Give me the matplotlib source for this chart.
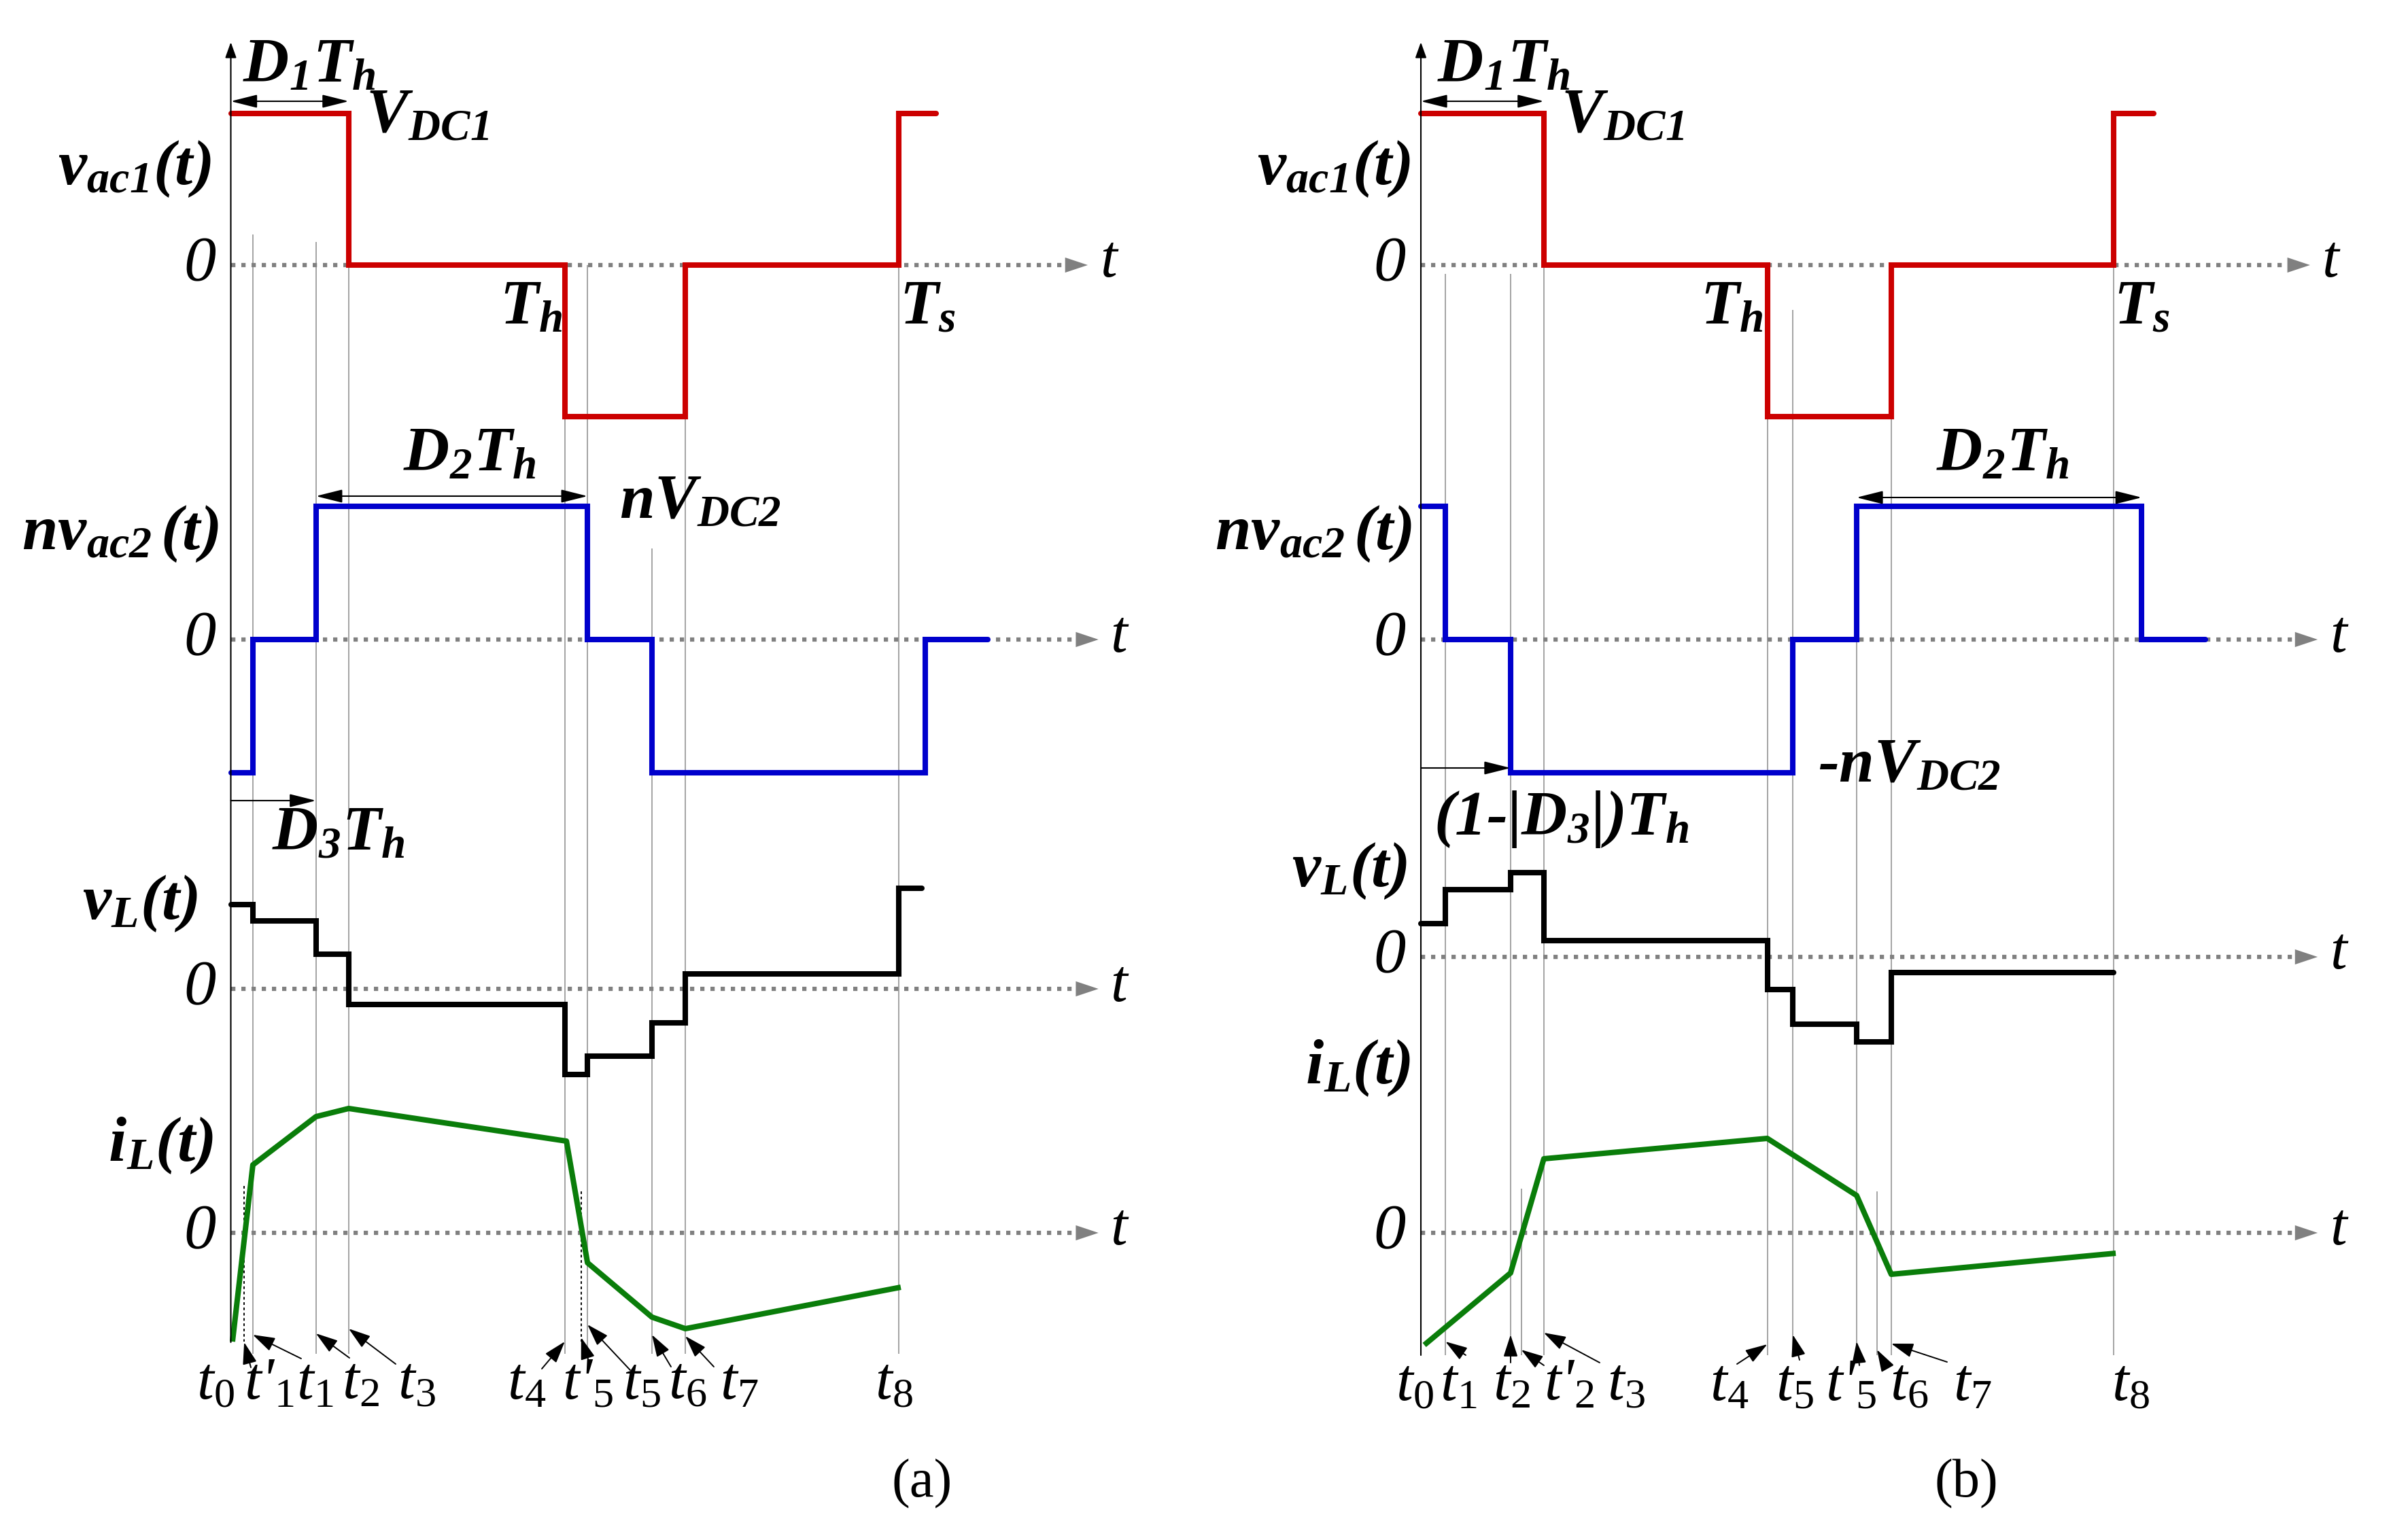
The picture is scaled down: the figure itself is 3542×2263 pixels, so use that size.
import matplotlib
matplotlib.use('Agg')
import matplotlib.pyplot as plt

W, H = 3542, 2263
DPI = 100

plt.rcParams['font.family'] = ['Liberation Serif', 'DejaVu Serif']
plt.rcParams['mathtext.fontset'] = 'custom'
plt.rcParams['mathtext.rm'] = 'Liberation Serif'
plt.rcParams['mathtext.it'] = 'Liberation Serif:italic'
plt.rcParams['mathtext.bf'] = 'Liberation Serif:bold:italic'

# ---------------- data: instants in units of Th, normalised levels ----------------
# panel (a)
a_instants = [0.0, 0.040, 0.066, 0.255, 0.353, 1.0, 1.049, 1.068, 1.261, 1.361, 2.0]
a_names = ["t0", "t'1", "t1", "t2", "t3", "t4", "t'5", "t5", "t6", "t7", "t8"]
a_vac1_edges = [0.0, 0.353, 1.0, 1.361, 2.0, 2.112]
a_vac1_levels = [1, 0, -1, 0, 1]
a_nvac2_edges = [0.0, 0.066, 0.255, 1.068, 1.261, 2.079, 2.266]
a_nvac2_levels = [-1, 0, 1, 0, -1, 0]
a_vl_edges = [0.0, 0.066, 0.255, 0.353, 1.0, 1.068, 1.261, 1.361, 2.0, 2.069]
a_vl_levels = [0.83, 0.67, 0.34, -0.15, -0.84, -0.66, -0.33, 0.15, 0.99]
a_il_t = [0.005, 0.066, 0.255, 0.353, 1.005, 1.068, 1.261, 1.361, 2.006]
a_il = [-0.80, 0.50, 0.855, 0.915, 0.675, -0.22, -0.62, -0.705, -0.40]

# panel (b)
b_instants = [0.0, 0.071, 0.259, 0.290, 0.355, 1.0, 1.074, 1.258, 1.317, 1.358, 2.0]
b_names = ["t0", "t1", "t2", "t'2", "t3", "t4", "t5", "t'5", "t6", "t7", "t8"]
b_vac1_edges = [0.0, 0.355, 1.0, 1.358, 2.0, 2.116]
b_vac1_levels = [1, 0, -1, 0, 1]
b_nvac2_edges = [0.0, 0.071, 0.259, 1.074, 1.258, 2.081, 2.265]
b_nvac2_levels = [1, 0, -1, 0, 1, 0]
b_vl_edges = [0.0, 0.071, 0.259, 0.355, 1.0, 1.074, 1.258, 1.358, 2.0]
b_vl_levels = [0.33, 0.66, 0.83, 0.16, -0.32, -0.66, -0.83, -0.15]
b_il_t = [0.01, 0.259, 0.355, 1.0, 1.258, 1.358, 2.006]
b_il = [-0.825, -0.295, 0.545, 0.695, 0.275, -0.305, -0.15]

# ---------------- layout (pixels of the full-size picture) ----------------
RED, BLUE, GREEN, GREY = '#cc0000', '#0000cc', '#0a7d0a', '#808080'
AMP = dict(vac1=223, nvac2=196, vl=150, il=200)

layout_a = dict(
    x0=339.5, ppt=491.25,
    zeros=dict(vac1=390, nvac2=941, vl=1455, il=1814),
    axis_ends=dict(vac1=2.566, nvac2=2.598, vl=2.598, il=2.598),
    yaxis=(1975, 62),
    # top of the thin guide line for each instant (None = no line)
    guide_top=[None, None, 345, 356, 390, 617, None, 390, 807, 407, 390],
    dotted_guides=[(1, 1745), (6, 1753)],
    guide_bottom=1992,
    # arrow from label to instant: index -> (tip_y, tail_x, tail_y)
    arrows={1: (1975, 369, 2012), 2: (1964, 443, 1999), 3: (1962, 514, 1998),
            4: (1955, 582, 2007), 5: (1974, 797, 2014), 6: (1968, 868, 2009),
            7: (1949, 927, 2016), 8: (1964, 987, 2011), 9: (1966, 1050, 2011)},
    name_x=[317, 396, 463, 531, 613, 775, 865, 944, 1011, 1087, 1315], name_y=2036,
)
layout_b = dict(
    x0=2090, ppt=509.5,
    zeros=dict(vac1=390, nvac2=941, vl=1408, il=1814),
    axis_ends=dict(vac1=2.567, nvac2=2.589, vl=2.589, il=2.589),
    yaxis=(1994, 62),
    guide_top=[None, 403, 403, 1749, 351, 617, 456, 744, 1753, 390, 390],
    dotted_guides=[],
    guide_bottom=1994,
    arrows={1: (1974, 2156, 1994), 2: (1964, 2222, 2005), 3: (1986, 2271, 2009),
            4: (1961, 2353, 2005), 5: (1978, 2555, 2007), 6: (1964, 2647, 2001),
            7: (1974, 2735, 2009), 8: (1986, 2774, 2009), 9: (1977, 2864, 2004)},
    name_x=[2081, 2145, 2224, 2308, 2392, 2544, 2640, 2723, 2808, 2901, 3134], name_y=2038,
)

fig = plt.figure(figsize=(W / DPI, H / DPI), dpi=DPI)
fig.patch.set_facecolor('white')

BIG = dict(fontsize=67, fontweight='bold', fontstyle='italic')
NAME = dict(fontsize=68, fontweight='bold', fontstyle='italic')
ZERO = dict(fontsize=68, fontstyle='italic')


def ftext(x, y, s, **kw):
    fig.text(x / W, 1 - y / H, s, ha='center', va='center', **kw)


def instant_label(name):
    # "t'5" -> t' with an italic subscript 5
    return name[:-1] + r'$_{\mathit{' + name[-1] + '}}$'


def make_axes(lay):
    ax = fig.add_axes([lay['x0'] / W, 0, 2 * lay['ppt'] / W, 1])
    ax.set_xlim(0, 2)
    ax.set_ylim(H, 0)
    ax.axis('off')
    return ax


def to_y(lay, key, levels):
    return [lay['zeros'][key] - AMP[key] * v for v in levels]


def head(ax, x0, y0, x1, y1, color, hl, hw, lw=0.0, style='-|>'):
    ax.annotate('', xy=(x1, y1), xytext=(x0, y0),
                arrowprops=dict(arrowstyle=f'{style},head_length={hl},head_width={hw}',
                                mutation_scale=1, color=color, lw=lw,
                                shrinkA=0, shrinkB=0), annotation_clip=False)


def draw_panel(lay, instants, names, traces, il_t, il):
    ax = make_axes(lay)
    ppt = lay['ppt']

    # thin guide lines
    for t, top in zip(instants, lay['guide_top']):
        if top is not None:
            ax.vlines(t, top, lay['guide_bottom'], color='#8a8a8a', lw=1.1, clip_on=False)
    for i, top in lay['dotted_guides']:
        ax.vlines(instants[i], top, lay['guide_bottom'] - 18, color='black', lw=1.4,
                  linestyles=(0, (2, 2)), clip_on=False)

    # vertical axis
    yb, yt = lay['yaxis']
    head(ax, 0, yb, 0, yt, 'black', 14, 5, lw=1.5)

    # dotted time axes with grey arrow heads
    hl = 33 / ppt
    for key, end in lay['axis_ends'].items():
        z = lay['zeros'][key]
        ax.plot([0, end - hl], [z, z], color=GREY, lw=4.5, dashes=(1, 1.4),
                clip_on=False)
        head(ax, end - hl, z, end, z, GREY, 24, 8)

    # step waveforms
    for key, edges, levels, color in traces:
        ys = to_y(lay, key, levels + [levels[-1]])
        ax.step(edges, ys, where='post', color=color, lw=5.8, clip_on=False,
                solid_capstyle='round', solid_joinstyle='miter')

    # inductor current
    ax.plot(il_t, to_y(lay, 'il', il), color=GREEN, lw=5.8, clip_on=False,
            solid_capstyle='butt', solid_joinstyle='round')

    # instant labels and arrows
    for n, x in zip(names, lay['name_x']):
        ftext(x, lay['name_y'], instant_label(n), fontsize=64, fontstyle='italic')
    for i, (tip_y, tx, ty) in lay['arrows'].items():
        ax.annotate('', xy=(instants[i], tip_y), xycoords='data',
                    xytext=(tx, H - ty), textcoords='figure pixels',
                    arrowprops=dict(arrowstyle='-|>,head_length=20,head_width=6.5',
                                    mutation_scale=1, color='black', lw=1.4,
                                    shrinkA=0, shrinkB=0), annotation_clip=False)

    # zero and t labels
    for key in lay['zeros']:
        z = lay['zeros'][key]
        end_px = lay['x0'] + lay['axis_ends'][key] * ppt
        ftext(lay['x0'] - 46, z, '0', **ZERO)
        ftext(end_px + 30, z - 4, 't', fontsize=64, fontstyle='italic')
    return ax


ax_a = draw_panel(layout_a, a_instants, a_names,
                  [('vac1', a_vac1_edges, a_vac1_levels, RED),
                   ('nvac2', a_nvac2_edges, a_nvac2_levels, BLUE),
                   ('vl', a_vl_edges, a_vl_levels, 'black')],
                  a_il_t, a_il)
ax_b = draw_panel(layout_b, b_instants, b_names,
                  [('vac1', b_vac1_edges, b_vac1_levels, RED),
                   ('nvac2', b_nvac2_edges, b_nvac2_levels, BLUE),
                   ('vl', b_vl_edges, b_vl_levels, 'black')],
                  b_il_t, b_il)

# duration arrows
head(ax_a, 0, 149, a_instants[4], 149, 'black', 24, 6, lw=1.5, style='<|-|>')
head(ax_a, a_instants[3], 730, a_instants[7], 730, 'black', 24, 6, lw=1.5, style='<|-|>')
head(ax_a, 0, 1178, a_instants[3], 1178, 'black', 24, 6, lw=1.5)
head(ax_b, 0, 149, b_instants[4], 149, 'black', 24, 6, lw=1.5, style='<|-|>')
head(ax_b, b_instants[7], 732, b_nvac2_edges[5], 732, 'black', 24, 6, lw=1.5, style='<|-|>')
head(ax_b, 0, 1130, b_instants[2], 1130, 'black', 24, 6, lw=1.5)

# panel (a) labels
ftext(455, 98, r'$\mathbf{D_1T_h}$', **BIG)
ftext(629, 172, r'$\mathbf{V_{DC1}}$', **BIG)
ftext(198, 249, r'$\mathbf{v_{ac1}(t)}$', **NAME)
ftext(781, 454, r'$\mathbf{T_h}$', **BIG)
ftext(1364, 454, r'$\mathbf{T_s}$', **BIG)
ftext(691, 670, r'$\mathbf{D_2T_h}$', **BIG)
ftext(1030, 740, r'$\mathbf{nV_{DC2}}$', **BIG)
ftext(177, 786, r'$\mathbf{nv_{ac2}\,(t)}$', **NAME)
ftext(498, 1228, r'$\mathbf{D_3T_h}$', **BIG)
ftext(206, 1330, r'$\mathbf{v_L(t)}$', **NAME)
ftext(236, 1686, r'$\mathbf{i_L(t)}$', **NAME)
ftext(1356, 2183, '(a)', fontsize=58)

# panel (b) labels
ftext(2212, 98, r'$\mathbf{D_1T_h}$', **BIG)
ftext(2387, 172, r'$\mathbf{V_{DC1}}$', **BIG)
ftext(1962, 249, r'$\mathbf{v_{ac1}(t)}$', **NAME)
ftext(2547, 454, r'$\mathbf{T_h}$', **BIG)
ftext(3150, 454, r'$\mathbf{T_s}$', **BIG)
ftext(2946, 670, r'$\mathbf{D_2T_h}$', **BIG)
ftext(1932, 786, r'$\mathbf{nv_{ac2}\,(t)}$', **NAME)
ftext(2808, 1128, r'-$\mathbf{nV_{DC2}}$', **BIG)
ftext(2297, 1206, r'(1-|$\mathbf{D_3}$|)$\mathbf{T_h}$', **BIG)
ftext(1985, 1282, r'$\mathbf{v_L(t)}$', **NAME)
ftext(1997, 1572, r'$\mathbf{i_L(t)}$', **NAME)
ftext(2892, 2183, '(b)', fontsize=58)

fig.savefig('out.png', dpi=DPI, facecolor='white')
